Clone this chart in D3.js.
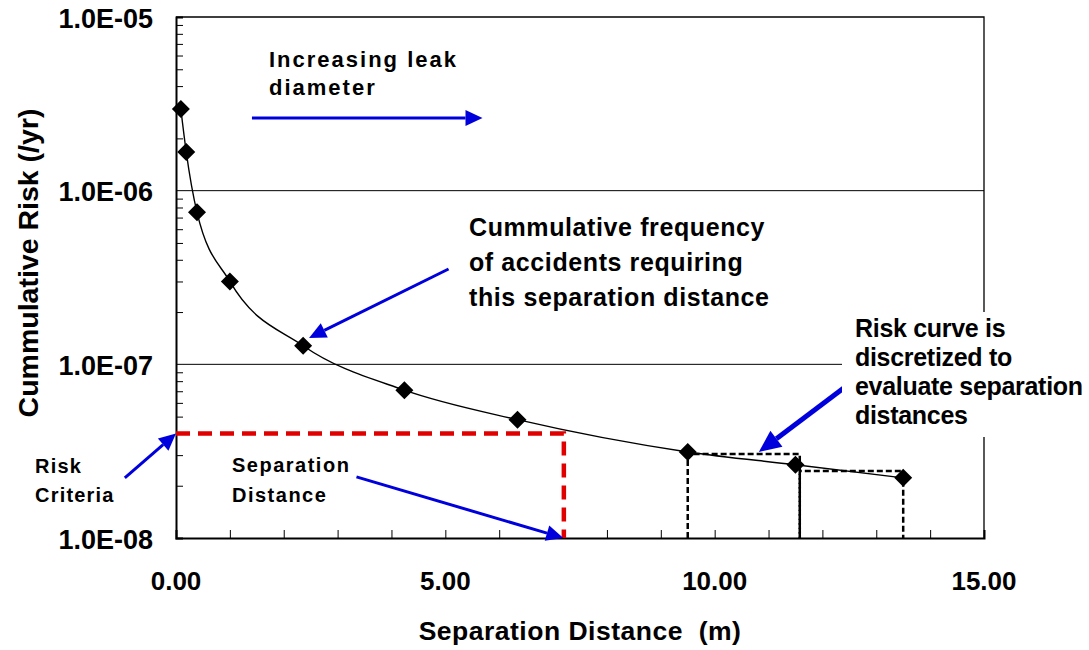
<!DOCTYPE html>
<html>
<head>
<meta charset="utf-8">
<script src="https://cdn.jsdelivr.net/npm/d3@7/dist/d3.min.js"></script>
<style>
  body { margin: 0; background: #fff; }
  text { font-family: "Liberation Sans", Arial, sans-serif; font-weight: bold; fill: #000; }
</style>
</head>
<body>
<div id="chart"></div>
<script>
// data
const distance = [0.09, 0.19, 0.39, 1.0, 2.36, 4.24, 6.34, 9.5, 11.5, 13.5];
const risk = [2.95e-6, 1.67e-6, 7.5e-7, 3.0e-7, 1.28e-7, 7.1e-8, 4.8e-8, 3.13e-8, 2.64e-8, 2.22e-8];

const riskCriteria = 4.0e-8;
const separationDistance = 7.2;

// discretized steps (dashed boxes)
const boxStart = [9.5, 11.58];
const boxEnd = [11.58, 13.5];
const boxRisk = [3.05e-8, 2.43e-8];

const xTickValues = [0, 5, 10, 15];
const yTickValues = [1e-8, 1e-7, 1e-6, 1e-5];

// annotation arrows, in data units [x, risk]
const arrowFrom = [[1.41, 2.62e-6], [5.06, 3.54e-7], [12.47, 7.6e-8], [-0.95, 2.22e-8], [3.35, 2.25e-8]];
const arrowTo = [[5.69, 2.62e-6], [2.47, 1.42e-7], [10.82, 3.13e-8], [0, 4.0e-8], [7.19, 1.0e-8]];
const arrowWidth = [3, 3, 5, 3, 3];

//setting up the margins and chart size
const svgWidth = 1089;
const svgHeight = 650;
const margin = { top: 17, right: 105, bottom: 112, left: 176 };
const width = svgWidth - margin.left - margin.right;
const height = svgHeight - margin.top - margin.bottom;

const svg = d3.select("#chart")
    .append("svg")
    .attr("width", svgWidth)
    .attr("height", svgHeight);

const chartGroup = svg.append("g")
    .attr("transform", `translate(${margin.left}, ${margin.top})`);

const xScale = d3.scaleLinear().domain([0, 15]).range([0, width]);
const yScale = d3.scaleLog().domain([1e-8, 1e-5]).range([height, 0]);

// gridlines at the decades
chartGroup.selectAll(".grid")
    .data([1e-7, 1e-6])
    .enter()
    .append("line")
    .attr("x1", 0).attr("x2", width)
    .attr("y1", d => yScale(d)).attr("y2", d => yScale(d))
    .attr("stroke", "#000").attr("stroke-width", 1);

// plot frame (top and right)
chartGroup.append("path")
    .attr("d", `M0,0H${width}V${height}`)
    .attr("fill", "none").attr("stroke", "#000").attr("stroke-width", 1.3);

// axes with inward minor ticks
const minorY = [];
[-8, -7, -6].forEach(e => { for (let k = 2; k <= 9; k++) minorY.push(k * Math.pow(10, e)); });

const leftAxis = d3.axisRight(yScale).tickValues(minorY).tickSize(7).tickFormat("");
const yAxis = chartGroup.append("g").call(leftAxis);
yAxis.select(".domain").attr("stroke-width", 2);
yAxis.selectAll(".tick line").attr("stroke-width", 1);

const bottomAxis = d3.axisTop(xScale).tickValues(d3.range(0, 16, 1)).tickSize(8).tickFormat("");
const xAxis = chartGroup.append("g")
    .attr("transform", `translate(0, ${height})`)
    .call(bottomAxis);
xAxis.select(".domain").attr("stroke-width", 2);

// tick labels
chartGroup.selectAll(".ylab")
    .data(yTickValues)
    .enter()
    .append("text")
    .attr("x", -23)
    .attr("y", d => yScale(d))
    .attr("dy", "0.4em")
    .attr("text-anchor", "end")
    .style("font-size", "27px")
    .text(d => d.toExponential(1).toUpperCase().replace(/E-(\d)$/, "E-0$1"));

chartGroup.selectAll(".xlab")
    .data(xTickValues)
    .enter()
    .append("text")
    .attr("x", d => xScale(d))
    .attr("y", height + 52)
    .attr("text-anchor", "middle")
    .style("font-size", "26px")
    .text(d => d.toFixed(2));

// axis titles
svg.append("text")
    .attr("x", 580).attr("y", 640)
    .attr("text-anchor", "middle")
    .style("font-size", "26.5px")
    .style("letter-spacing", "0.5px")
    .attr("xml:space", "preserve")
    .text("Separation Distance  (m)");

svg.append("text")
    .attr("transform", "translate(38, 263) rotate(-90)")
    .attr("text-anchor", "middle")
    .style("font-size", "28.5px")
    .text("Cummulative Risk (/yr)");

// risk curve
const line = d3.line()
    .x((d, i) => xScale(distance[i]))
    .y(d => yScale(d))
    .curve(d3.curveMonotoneX);

chartGroup.append("path")
    .datum(risk)
    .attr("d", line)
    .attr("fill", "none")
    .attr("stroke", "#000")
    .attr("stroke-width", 1.4);

// dashed discretization boxes
chartGroup.selectAll(".box")
    .data(boxRisk)
    .enter()
    .append("path")
    .attr("d", (d, i) => `M${xScale(boxStart[i])},${height}V${yScale(d)}H${xScale(boxEnd[i])}V${height}`)
    .attr("fill", "none")
    .attr("stroke", "#000")
    .attr("stroke-width", 2.5)
    .attr("stroke-dasharray", "6,3");

// diamond markers
const dSize = 9;
chartGroup.selectAll(".pt")
    .data(risk)
    .enter()
    .append("path")
    .attr("d", (d, i) => {
        const cx = xScale(distance[i]), cy = yScale(d);
        return `M${cx},${cy - dSize}L${cx + dSize},${cy}L${cx},${cy + dSize}L${cx - dSize},${cy}Z`;
    })
    .attr("fill", "#000");

// risk criteria / separation distance (red dashed)
chartGroup.append("path")
    .attr("d", `M0,${yScale(riskCriteria)}H${xScale(separationDistance)}V${height}`)
    .attr("fill", "none")
    .attr("stroke", "#e00000")
    .attr("stroke-width", 4.5)
    .attr("stroke-dasharray", "14,8");

// white box behind right note
svg.append("rect")
    .attr("x", 842).attr("y", 312)
    .attr("width", 247).attr("height", 125)
    .attr("fill", "#fff");

// notes
function note(x, y, lines, size, spacing, step) {
    const t = svg.append("text")
        .attr("x", x).attr("y", y)
        .style("font-size", size + "px")
        .style("letter-spacing", spacing + "px");
    lines.forEach((s, i) => {
        t.append("tspan").attr("x", x).attr("y", y + i * step).text(s);
    });
}
note(269, 67, ["Increasing leak", "diameter"], 22, 2, 28);
note(469, 236, ["Cummulative frequency", "of accidents requiring", "this separation distance"], 25, 0.6, 35);
note(855, 337, ["Risk curve is", "discretized to", "evaluate separation", "distances"], 25, -0.3, 29);
note(35, 473, ["Risk", "Criteria"], 20, 1.2, 29);
note(232, 472, ["Separation", "Distance"], 20, 1.5, 30);

// blue arrows
const blue = "#0000dd";
arrowFrom.forEach((p, i) => {
    const x1 = xScale(p[0]), y1 = yScale(p[1]);
    const x2 = xScale(arrowTo[i][0]), y2 = yScale(arrowTo[i][1]);
    const w = arrowWidth[i];
    const headLen = w > 3 ? 22 : 17, headHalf = w > 3 ? 10 : 8;
    const ang = Math.atan2(y2 - y1, x2 - x1);
    const bx = x2 - headLen * Math.cos(ang), by = y2 - headLen * Math.sin(ang);
    chartGroup.append("line")
        .attr("x1", x1).attr("y1", y1)
        .attr("x2", bx).attr("y2", by)
        .attr("stroke", blue).attr("stroke-width", w);
    const px = -Math.sin(ang) * headHalf, py = Math.cos(ang) * headHalf;
    chartGroup.append("path")
        .attr("d", `M${x2},${y2}L${bx + px},${by + py}L${bx - px},${by - py}Z`)
        .attr("fill", blue);
});
</script>
</body>
</html>
